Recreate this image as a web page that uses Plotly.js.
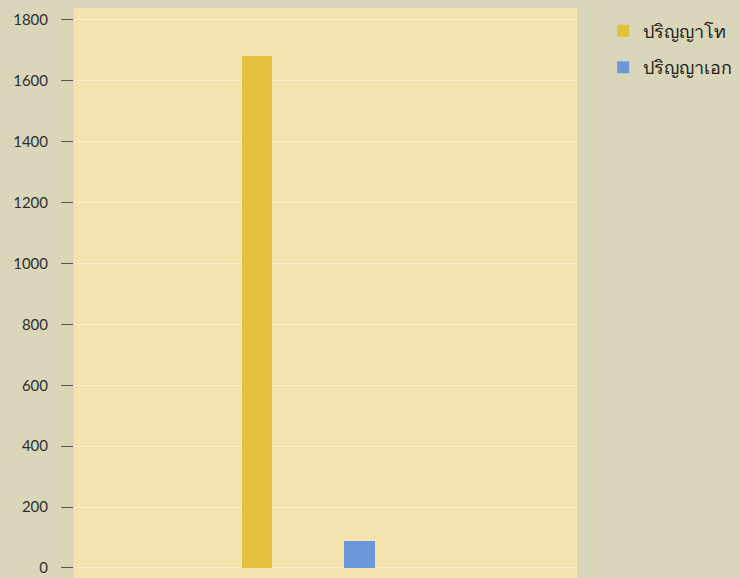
<!DOCTYPE html>
<html><head><meta charset="utf-8">
<script src="https://cdn.plot.ly/plotly-3.0.1.min.js"></script>
<style>html,body{margin:0;padding:0;background:#d9d6ba;}</style>
</head><body>
<div id="chart" style="width:740px;height:578px;"></div>
<script>
const seriesNames = ['ปริญญาโท', 'ปริญญาเอก'];
const seriesValues = [1680, 90];
const yTicks = [0, 200, 400, 600, 800, 1000, 1200, 1400, 1600, 1800];
const colors = ['#e5c03c', '#6b98d8'];

const traces = seriesNames.map((name, i) => ({
  type: 'bar',
  name: name,
  legendgroup: 'g' + i,
  x: [i],
  y: [seriesValues[i]],
  width: 0.3,
  marker: {color: colors[i]},
  hoverinfo: 'none'
}));

const layout = {
  width: 740, height: 578,
  margin: {l: 74, r: 163, t: 8, b: 0},
  paper_bgcolor: '#d9d6ba',
  plot_bgcolor: '#f4e3ae',
  font: {family: 'Lato, "Noto Sans", sans-serif', color: '#2a2a2a', size: 16},
  xaxis: {range: [-1.79, 3.13], showticklabels: false, showgrid: false, zeroline: false, ticks: '', fixedrange: true},
  yaxis: {
    range: [-33, 1839], tickvals: yTicks, ticktext: yTicks.map(String),
    ticks: 'outside', ticklen: 12, tickcolor: '#555', tickwidth: 1,
    ticklabelstandoff: 10, ticklabeloverflow: 'allow',
    showgrid: true, gridcolor: '#fbefca', gridwidth: 1, zeroline: false,
    showline: false, tickfont: {size: 15, color: '#2e2e2e'}
  },
  showlegend: true,
  legend: {x: 1.052, y: 0.992, xanchor: 'left', yanchor: 'top', bgcolor: 'rgba(0,0,0,0)',
    font: {size: 18, color: '#222'}, itemwidth: 30, traceorder: 'grouped', tracegroupgap: 10},
  bargap: 0
};
Plotly.newPlot('chart', traces, layout, {displayModeBar: false, staticPlot: true});
</script>
</body></html>
